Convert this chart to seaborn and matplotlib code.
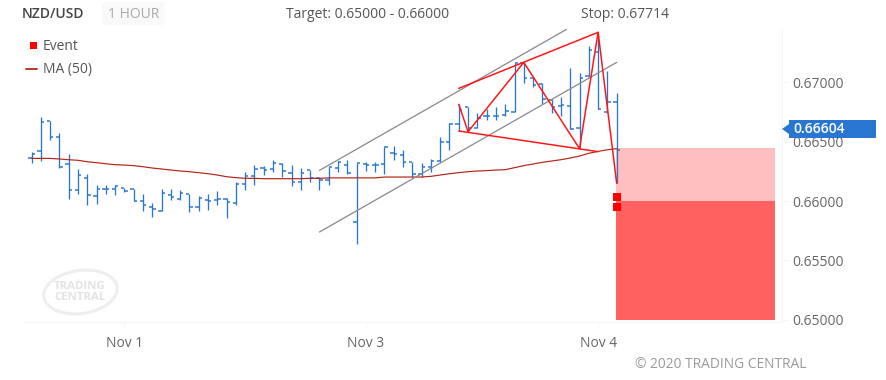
import numpy as np
import pandas as pd
import matplotlib
matplotlib.use("Agg")
import matplotlib.pyplot as plt
from matplotlib.patches import Ellipse, FancyBboxPatch, Polygon, Rectangle
import seaborn as sns

opens = [0.66359,0.66418,0.66674,0.66542,0.66309,0.66095,0.66197,0.66039,0.66104,0.66104,
         0.66107,0.66098,0.66003,0.65952,0.65913,0.66053,0.66020,0.66059,0.65949,0.66006,
         0.66008,0.66017,0.65980,0.66143,0.66208,0.66275,0.66272,0.66312,0.66233,0.66157,
         0.66258,0.66197,0.66174,0.66281,0.66300,0.65820,0.66314,0.66303,0.66312,0.66404,
         0.66388,0.66331,0.66230,0.66286,0.66334,0.66497,0.66651,0.66789,0.66612,0.66716,
         0.66716,0.66724,0.66747,0.67165,0.67033,0.66986,0.66851,0.66803,0.66800,0.66612,
         0.67053,0.67258,0.66747,0.66831]
highs = [0.66416,0.66705,0.66674,0.66570,0.66393,0.66267,0.66225,0.66132,0.66135,0.66135,
         0.66107,0.66098,0.66059,0.65983,0.66098,0.66101,0.66093,0.66059,0.66039,0.66059,
         0.66084,0.66025,0.66157,0.66244,0.66303,0.66292,0.66345,0.66317,0.66303,0.66275,
         0.66261,0.66205,0.66289,0.66340,0.66345,0.66317,0.66331,0.66331,0.66452,0.66463,
         0.66430,0.66331,0.66317,0.66351,0.66536,0.66654,0.66814,0.66789,0.66739,0.66772,
         0.66789,0.66817,0.67160,0.67165,0.67047,0.66991,0.66856,0.66873,0.67118,0.67075,
         0.67306,0.67412,0.67095,0.66907]
lows = [0.66323,0.66340,0.66514,0.66275,0.66020,0.66062,0.65966,0.65975,0.66062,0.66051,
        0.66079,0.66000,0.65919,0.65868,0.65913,0.66008,0.66011,0.65910,0.65919,0.65924,
        0.65966,0.65857,0.65969,0.66095,0.66135,0.66219,0.66244,0.66199,0.66126,0.66093,
        0.66163,0.66093,0.66135,0.66241,0.66227,0.65638,0.66256,0.66247,0.66227,0.66345,
        0.66289,0.66199,0.66199,0.66247,0.66331,0.66430,0.66590,0.66584,0.66612,0.66682,
        0.66682,0.66716,0.66747,0.66991,0.66963,0.66817,0.66739,0.66716,0.66604,0.66444,
        0.67047,0.66772,0.66744,0.66149]
closes = [0.66399,0.66666,0.66542,0.66284,0.66093,0.66216,0.66048,0.66098,0.66104,0.66124,
          0.66087,0.66003,0.65963,0.65933,0.66065,0.66031,0.66065,0.65947,0.66028,0.66000,
          0.66020,0.65989,0.66140,0.66208,0.66267,0.66261,0.66317,0.66253,0.66163,0.66239,
          0.66197,0.66174,0.66286,0.66326,0.66233,0.66317,0.66306,0.66306,0.66452,0.66393,
          0.66331,0.66225,0.66286,0.66334,0.66497,0.66651,0.66767,0.66612,0.66696,0.66719,
          0.66716,0.66761,0.67160,0.67033,0.66977,0.66856,0.66789,0.66809,0.66609,0.67039,
          0.67272,0.66772,0.66831,0.66427]
ma50 = [0.66359,0.66359,0.66359,0.66354,0.66348,0.66343,0.66331,0.66323,0.66314,0.66306,
        0.66303,0.66298,0.66289,0.66278,0.66270,0.66261,0.66253,0.66247,0.66239,0.66230,
        0.66219,0.66205,0.66197,0.66191,0.66191,0.66188,0.66188,0.66188,0.66188,0.66188,
        0.66191,0.66191,0.66195,0.66195,0.66195,0.66195,0.66195,0.66195,0.66202,0.66202,
        0.66202,0.66202,0.66202,0.66208,0.66219,0.66230,0.66239,0.66247,0.66253,0.66256,
        0.66261,0.66264,0.66281,0.66298,0.66312,0.66326,0.66337,0.66348,0.66362,0.66379,
        0.66402,0.66418,0.66432,0.66441]

channel_x = [31, 57.6]
channel_upper = [0.66258, 0.67446]
channel_low_x = [31, 63]
channel_lower = [0.65739, 0.67168]
wave_x = [46, 47, 53, 59, 61, 63]
wave_y = [0.66814, 0.66584, 0.67168, 0.66441, 0.67421, 0.66149]
top_x = [46, 61]
top_y = [0.66949, 0.67421]
bot_x = [46, 61]
bot_y = [0.66590, 0.66416]
event_x = [63, 63]
event_y = [0.66034, 0.65949]
zone_x = [62.95, 80]
entry_level = 0.66446
target_high = 0.66000
target_low = 0.65000
y_ticks = [0.65, 0.655, 0.66, 0.665, 0.67]
x_ticks = [10, 36, 61]
x_labels = ["Nov 1", "Nov 3", "Nov 4"]
last_price = "0.66604"

BLUE = "#2976D2"
RED = "#FF1414"
GREY = "#666666"
LINE = "#F5F5F5"
px = 0.72
FS = 10.0

sns.set_theme(style="white")
plt.rcParams["font.family"] = ["Open Sans", "DejaVu Sans"]

fig = plt.figure(figsize=(8.87, 3.80), dpi=100)
L, R, T, B = 24, 782, 29, 322
ax = fig.add_axes([L/887, 1-B/380, (R-L)/887, (B-T)/380])
ax.set_xlim(-0.81, 80.8)
ax.set_ylim(0.64981, 0.67449)

frame = pd.DataFrame({"i": np.arange(len(opens)), "o": opens, "h": highs, "l": lows, "c": closes, "ma": ma50})

ax.axhspan(target_high, entry_level, xmin=(zone_x[0]+0.81)/81.61, xmax=(zone_x[1]+0.81)/81.61,
           color="#FFBFBF", lw=0, zorder=1)
ax.axhspan(target_low, target_high, xmin=(zone_x[0]+0.81)/81.61, xmax=(zone_x[1]+0.81)/81.61,
           color="#FF6060", lw=0, zorder=1)

tick = 0.36
ax.vlines(frame.i, frame.l, frame.h, color=BLUE, lw=1.3*px, zorder=2)
ax.hlines(frame.o, frame.i-tick, frame.i, color=BLUE, lw=1.5*px, zorder=2)
ax.hlines(frame.c, frame.i, frame.i+tick, color=BLUE, lw=1.5*px, zorder=2)

sns.lineplot(data=frame, x="i", y="ma", ax=ax, color="#B3261A", lw=1.2*px, zorder=3, errorbar=None)

for xs, ys in [(channel_x, channel_upper), (channel_low_x, channel_lower)]:
    sns.lineplot(x=xs, y=ys, ax=ax, color="#8C8C8C", lw=1.3*px, zorder=4, errorbar=None)
for xs, ys in [(wave_x, wave_y), (top_x, top_y), (bot_x, bot_y)]:
    sns.lineplot(x=xs, y=ys, ax=ax, color=RED, lw=1.5*px, zorder=5, errorbar=None, sort=False)
sns.scatterplot(x=event_x, y=event_y, ax=ax, color="#FF0000", marker="s", s=34, linewidth=0, zorder=6)

ax.set_xlabel(""); ax.set_ylabel("")
ax.yaxis.tick_right()
ax.set_yticks(y_ticks)
ax.set_yticklabels([f"{v:.5f}" for v in y_ticks])
ax.set_xticks(x_ticks)
ax.set_xticklabels(x_labels)
ax.tick_params(axis="y", length=6.5*px, width=0.7, color=LINE, labelcolor=GREY, labelsize=FS, pad=2.8, right=True, left=False)
ax.tick_params(axis="x", length=6*px, width=0.7, color=LINE, labelcolor=GREY, labelsize=FS, pad=6, bottom=True)
for s in ["top", "left"]:
    ax.spines[s].set_visible(False)
for s in ["bottom", "right"]:
    ax.spines[s].set_color(LINE)
    ax.spines[s].set_linewidth(0.7)

# pixel overlay for furniture
ov = fig.add_axes([0, 0, 1, 1], facecolor="none")
ov.set_xlim(0, 887); ov.set_ylim(380, 0); ov.axis("off")

ov.add_patch(FancyBboxPatch((102, 2), 63, 23, boxstyle="round,pad=0,rounding_size=3", fc="#F9F9F9", ec="none"))
ov.text(22, 14.5, "NZD/USD", fontsize=FS, color="#444444", va="center", fontweight="semibold")
ov.text(108, 14.5, "1 HOUR", fontsize=FS, color="#AAAAAA", va="center")
ov.text(286, 14.5, "Target: 0.65000 - 0.66000", fontsize=FS, color="#555555", va="center")
ov.text(581, 14.5, "Stop: 0.67714", fontsize=FS, color="#555555", va="center")

ov.add_patch(Rectangle((30, 42), 7, 7, fc="#FF0000", ec="none"))
ov.text(43, 46.5, "Event", fontsize=FS, color="#555555", va="center")
ov.plot([26, 37], [69, 69], color="#B3261A", lw=1.8*px)
ov.text(43, 69.5, "MA (50)", fontsize=FS, color="#555555", va="center")

ov.add_patch(Polygon([(782, 129), (789, 124), (789, 120), (876, 120), (876, 138), (789, 138), (789, 134)],
                     closed=True, fc=BLUE, ec="none"))
ov.text(793, 129, last_price, fontsize=FS, color="white", va="center", fontweight="semibold")

ov.text(635, 364, "© 2020 TRADING CENTRAL", fontsize=9.9, color="#999999", va="center")

ov.add_patch(Ellipse((80.5, 292), 74, 43, angle=-8, fc="none", ec="#EEEEEE", lw=2.2))
ov.text(80, 292, "TRADING\nCENTRAL", fontsize=8.2, fontweight="bold", color="#E3E3E3", ha="center", va="center", linespacing=0.9)

fig.savefig("out.png", dpi=100, facecolor="white")
